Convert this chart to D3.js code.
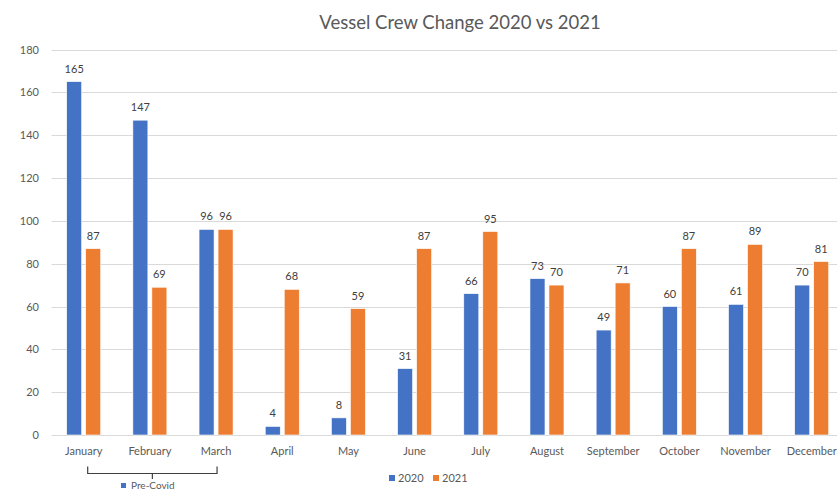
<!DOCTYPE html>
<html>
<head>
<meta charset="utf-8">
<script src="https://cdn.jsdelivr.net/npm/d3@7"></script>
<style>
  html, body { margin: 0; padding: 0; background: #fff; }
  svg { display: block; font-family: Lato, "Open Sans", sans-serif; }
</style>
</head>
<body>
<svg id="chart" width="837" height="491"></svg>
<script>
const months = ["January","February","March","April","May","June","July","August","September","October","November","December"];
const series = ["2020","2021"];
const values2020 = [165,147,96,4,8,31,66,73,49,60,61,70];
const values2021 = [87,69,96,68,59,87,95,70,71,87,89,81];
const yTicks = [0,20,40,60,80,100,120,140,160,180];
const title = "Vessel Crew Change 2020 vs 2021";
const bracketLabel = "Pre-Covid";
const bracketMonths = ["January","March"];

const colors = {"2020": "#4472C4", "2021": "#ED7D31"};
const svg = d3.select("#chart");

const x0 = d3.scaleBand().domain(months).range([50.6, 844.8]).padding(0);
const x1 = d3.scaleBand().domain(series).range([0, x0.bandwidth()]).paddingInner(0.21).paddingOuter(0.847);
const y = d3.scaleLinear().domain([0, 180]).range([435, 49.5]);

// gridlines
svg.append("g").selectAll("line").data(yTicks).join("line")
  .attr("x1", 51.5).attr("x2", 837)
  .attr("y1", d => Math.round(y(d)) + 0.5).attr("y2", d => Math.round(y(d)) + 0.5)
  .attr("stroke", "#d9d9d9").attr("stroke-width", 1);

// y axis labels
const yAxis = d3.axisLeft(y).tickValues(yTicks).tickSize(0).tickPadding(0);
const yg = svg.append("g").attr("transform", "translate(39,0)").call(yAxis);
yg.select(".domain").remove();
yg.selectAll("text").attr("fill", "#595959").style("font-size", "11px").style("font-family", "Lato, sans-serif");

// x axis labels
const xAxis = d3.axisBottom(x0).tickSize(0).tickPadding(0);
const xg = svg.append("g").attr("transform", "translate(0,447)").call(xAxis);
xg.select(".domain").remove();
xg.selectAll("text").attr("fill", "#595959").style("font-size", "11px").style("font-family", "Lato, sans-serif");

// bars
const data = months.map((m, i) => ({month: m, vals: [{s: "2020", v: values2020[i]}, {s: "2021", v: values2021[i]}]}));
const groups = svg.append("g").selectAll("g").data(data).join("g")
  .attr("transform", d => `translate(${x0(d.month)},0)`);
groups.selectAll("rect").data(d => d.vals).join("rect")
  .attr("x", d => x1(d.s)).attr("width", x1.bandwidth())
  .attr("y", d => y(d.v)).attr("height", d => y(0) - y(d.v))
  .attr("fill", d => colors[d.s])
  .attr("stroke", "#ffffff").attr("stroke-width", 0.6);
groups.selectAll("text").data(d => d.vals).join("text")
  .attr("x", d => x1(d.s) + x1.bandwidth() / 2)
  .attr("y", d => y(d.v) - 9)
  .attr("text-anchor", "middle")
  .attr("fill", "#404040").style("font-size", "11px")
  .text(d => d.v);

// title
svg.append("text").attr("x", 460).attr("y", 29).attr("text-anchor", "middle")
  .attr("fill", "#595959").style("font-size", "18.5px").text(title);

// bracket
const bx1 = x0(bracketMonths[0]) + x0.bandwidth() / 2 + 4;
const bx2 = x0(bracketMonths[1]) + x0.bandwidth() / 2 + 1;
const bm = (bx1 + bx2) / 2;
const br = svg.append("g").attr("stroke", "#404040").attr("stroke-width", 1.2).attr("fill", "none");
br.append("path").attr("d", `M${bx1},466.5 V473.5 H${bx2} V466.5`);
br.append("path").attr("d", `M${bm},473.5 V479`);
svg.append("rect").attr("x", 121).attr("y", 483).attr("width", 5).attr("height", 5).attr("fill", colors["2020"]);
svg.append("text").attr("x", 131).attr("y", 489).attr("fill", "#595959").style("font-size", "10px").text(bracketLabel);

// legend
const legend = svg.append("g");
const legendX = [389, 433];
series.forEach((s, i) => {
  legend.append("rect").attr("x", legendX[i]).attr("y", 475).attr("width", 6).attr("height", 6).attr("fill", colors[s]);
  legend.append("text").attr("x", legendX[i] + 9).attr("y", 482).attr("fill", "#595959").style("font-size", "11px").text(s);
});
</script>
</body>
</html>
